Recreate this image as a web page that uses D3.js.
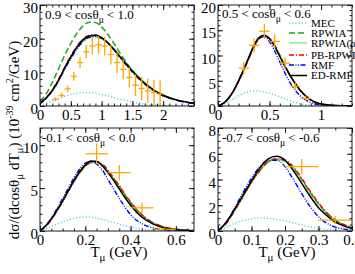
<!DOCTYPE html>
<html>
<head>
<meta charset="utf-8">
<script src="https://cdn.jsdelivr.net/npm/d3@7"></script>
<style>
  body { margin: 0; background: #fff; }
  svg { display: block; font-family: "Liberation Serif", "Times New Roman", serif; }
</style>
</head>
<body>
<svg id="chart" width="355" height="274"></svg>
<script>
// ---- values ----

// panel 1 : 0.9 < cos < 1.0
const tP1 = [0, 0.1, 0.2, 0.3, 0.4, 0.5, 0.6, 0.7, 0.8, 0.9, 1.0, 1.1, 1.2, 1.3, 1.4, 1.5, 1.6, 1.7, 1.8, 1.9, 2.0, 2.2, 2.5];
const mecP1    = [0.2, 0.8, 1.5, 2.2, 2.8, 3.4, 3.8, 4.0, 4.0, 3.8, 3.4, 3.0, 2.5, 2.0, 1.6, 1.2, 0.85, 0.6, 0.4, 0.25, 0.15, 0.05, 0.0];
const rpwiaP1  = [1.5, 3.6, 7.0, 11.0, 15.0, 18.6, 21.6, 23.8, 24.9, 24.8, 23.5, 21.3, 18.6, 15.7, 13.0, 10.5, 8.4, 6.6, 5.1, 3.9, 3.0, 1.8, 0.8];
const rpwiaRP1 = [0.9, 2.5, 4.7, 7.6, 11.1, 14.3, 17.1, 19.2, 20.3, 20.5, 20.0, 18.8, 17.0, 14.9, 12.8, 10.7, 8.8, 7.0, 5.5, 4.3, 3.3, 2.0, 0.8];
const pbP1     = [0.8, 2.5, 4.8, 7.9, 11.5, 14.9, 17.8, 19.9, 21.0, 21.1, 20.3, 18.7, 16.6, 14.3, 12.1, 10.0, 8.1, 6.5, 5.1, 3.9, 3.0, 1.8, 0.8];
const rmfP1    = [0.7, 2.2, 4.5, 7.4, 10.9, 14.1, 17.0, 19.2, 20.4, 20.7, 20.1, 18.7, 16.8, 14.6, 12.4, 10.3, 8.4, 6.7, 5.2, 4.0, 3.1, 1.8, 0.7];
const edrmfP1  = [0.8, 2.4, 4.6, 7.6, 11.3, 14.6, 17.5, 19.7, 20.8, 21.0, 20.3, 18.8, 16.8, 14.6, 12.4, 10.3, 8.4, 6.7, 5.3, 4.1, 3.2, 1.9, 0.8];
const expTP1   = [0.25, 0.35, 0.45, 0.55, 0.65, 0.75, 0.85, 0.95, 1.05, 1.15, 1.25, 1.35, 1.45, 1.55, 1.65, 1.75, 1.85, 1.95];
const expVP1   = [2.0, 3.1, 5.1, 8.8, 12.9, 16.1, 17.8, 18.2, 17.8, 15.3, 12.9, 10.9, 8.5, 6.2, 5.2, 4.5, 4.0, 3.6];
const expEP1   = [0.6, 0.8, 1.0, 1.3, 1.6, 2.0, 2.4, 2.6, 2.8, 3.0, 3.0, 3.0, 3.0, 3.2, 3.4, 3.6, 3.8, 4.0];

// panel 2 : 0.5 < cos < 0.6
const tP2 = [0, 0.05, 0.1, 0.15, 0.2, 0.25, 0.3, 0.35, 0.4, 0.45, 0.5, 0.55, 0.6, 0.65, 0.7, 0.75, 0.8, 0.85, 0.9, 0.95, 1.0, 1.1, 1.2, 1.3];
const mecP2    = [0, 0.35, 0.8, 1.4, 2.0, 2.5, 2.85, 3.0, 2.95, 2.8, 2.5, 2.2, 1.8, 1.4, 1.05, 0.7, 0.45, 0.28, 0.15, 0.08, 0.04, 0.01, 0, 0];
const rpwiaP2  = [0, 0.5, 1.5, 3.0, 5.0, 7.2, 9.6, 11.9, 13.5, 13.9, 13.3, 11.9, 10.0, 8.0, 6.1, 4.5, 3.1, 2.0, 1.2, 0.7, 0.4, 0.15, 0.05, 0.02];
const rpwiaRP2 = [0, 0.5, 1.5, 2.9, 4.9, 7.1, 9.5, 11.7, 13.3, 13.8, 13.3, 11.9, 10.0, 8.0, 6.1, 4.5, 3.1, 2.0, 1.3, 0.75, 0.45, 0.16, 0.05, 0.02];
const pbP2     = [0, 0.4, 1.4, 2.9, 4.8, 7.0, 9.4, 11.7, 13.3, 13.9, 13.4, 12.0, 10.0, 7.9, 6.0, 4.4, 3.0, 1.9, 1.1, 0.6, 0.35, 0.12, 0.04, 0.01];
const rmfP2    = [0, 0.5, 1.5, 3.0, 5.0, 7.2, 9.6, 11.9, 13.5, 13.7, 12.7, 10.9, 8.7, 6.5, 4.6, 3.1, 2.0, 1.2, 0.65, 0.35, 0.18, 0.05, 0.02, 0.01];
const edrmfP2  = [0, 0.5, 1.5, 3.0, 5.0, 7.3, 9.7, 12.0, 13.6, 14.0, 13.3, 11.8, 9.8, 7.8, 6.0, 4.4, 3.0, 2.0, 1.2, 0.7, 0.4, 0.15, 0.05, 0.02];
const expTP2   = [0.25, 0.35, 0.45, 0.55, 0.65, 0.75, 0.85];
const expVP2   = [7.5, 12.0, 14.8, 12.8, 8.5, 3.9, 1.5];
const expEP2   = [1.2, 1.4, 1.5, 1.4, 1.1, 0.7, 0.5];

// panel 3 : -0.1 < cos < 0.0
const tP3 = [0, 0.025, 0.05, 0.075, 0.1, 0.125, 0.15, 0.175, 0.2, 0.225, 0.25, 0.275, 0.3, 0.325, 0.35, 0.375, 0.4, 0.45, 0.5, 0.55, 0.6, 0.68];
const mecP3    = [0, 0.25, 0.5, 0.8, 1.05, 1.3, 1.48, 1.58, 1.62, 1.6, 1.5, 1.35, 1.18, 1.0, 0.8, 0.6, 0.45, 0.2, 0.07, 0.02, 0, 0];
const rpwiaP3  = [0, 0.6, 1.4, 2.4, 3.5, 4.7, 5.8, 6.8, 7.6, 8.0, 8.1, 7.7, 7.0, 6.1, 5.2, 4.2, 3.3, 1.85, 0.95, 0.45, 0.2, 0.05];
const rpwiaRP3 = [0, 0.6, 1.4, 2.4, 3.5, 4.6, 5.7, 6.7, 7.5, 7.9, 8.0, 7.7, 7.0, 6.1, 5.2, 4.2, 3.3, 1.85, 0.95, 0.45, 0.2, 0.05];
const pbP3     = [0, 0.5, 1.3, 2.3, 3.4, 4.6, 5.8, 6.8, 7.6, 8.0, 8.1, 7.8, 7.1, 6.2, 5.3, 4.3, 3.4, 1.9, 0.95, 0.45, 0.2, 0.05];
const rmfP3    = [0, 0.6, 1.5, 2.6, 3.8, 5.0, 6.2, 7.2, 7.9, 8.1, 7.8, 7.1, 6.0, 4.9, 3.8, 2.8, 1.9, 0.85, 0.35, 0.12, 0.04, 0.01];
const edrmfP3  = [0, 0.6, 1.4, 2.4, 3.5, 4.7, 5.9, 6.9, 7.7, 8.15, 8.1, 7.6, 6.8, 5.9, 4.9, 3.9, 3.0, 1.6, 0.8, 0.35, 0.15, 0.04];
const expTP3   = [0.25, 0.35, 0.45, 0.55];
const expVP3   = [9.0, 6.8, 2.7, 0.2];
const expEP3   = [1.2, 0.9, 0.6, 0.2];

// panel 4 : -0.7 < cos < -0.6
const tP4 = [0, 0.025, 0.05, 0.075, 0.1, 0.125, 0.15, 0.175, 0.2, 0.225, 0.25, 0.275, 0.3, 0.325, 0.35, 0.375, 0.4];
const mecP4    = [0, 0.3, 0.6, 0.8, 0.95, 1.0, 0.98, 0.9, 0.78, 0.62, 0.47, 0.32, 0.2, 0.11, 0.05, 0.02, 0.01];
const rpwiaP4  = [0, 0.6, 1.6, 2.7, 3.8, 4.7, 5.4, 5.6, 5.45, 4.9, 4.0, 3.0, 2.1, 1.4, 0.85, 0.5, 0.25];
const rpwiaRP4 = [0, 0.6, 1.6, 2.7, 3.8, 4.7, 5.35, 5.55, 5.4, 4.9, 4.0, 3.0, 2.1, 1.4, 0.85, 0.5, 0.25];
const pbP4     = [0, 0.6, 1.6, 2.7, 3.8, 4.7, 5.4, 5.6, 5.5, 5.0, 4.1, 3.1, 2.2, 1.4, 0.85, 0.5, 0.25];
const rmfP4    = [0, 0.7, 1.8, 3.0, 4.1, 5.0, 5.5, 5.5, 5.0, 4.0, 2.9, 1.9, 1.1, 0.6, 0.3, 0.15, 0.06];
const edrmfP4  = [0, 0.7, 1.7, 2.8, 3.9, 4.9, 5.6, 5.8, 5.5, 4.7, 3.7, 2.7, 1.8, 1.2, 0.7, 0.4, 0.2];
const expTP4   = [0.25, 0.35];
const expVP4   = [5.0, 0.85];
const expEP4   = [0.6, 0.3];

const binHalf = 0.05;   // half width of the T bins

// legend / model names, in legend order
const modelNames = ["MEC", "RPWIA", "RPWIA(ρ", "PB-RPWIA", "RMF", "ED-RMF"];

// ---- styles ----
const modelStyle = {
  "MEC":      { color: "#48d1d6", width: 1.3, dash: "1.2,2" },
  "RPWIA":    { color: "#21a321", width: 1.5, dash: "6,3" },
  "RPWIA(ρ":  { color: "#5ef05e", width: 1.2, dash: null },
  "PB-RPWIA": { color: "#ff0000", width: 1.4, dash: "5,2,1,2" },
  "RMF":      { color: "#0000ff", width: 1.4, dash: "5,1.5,1,1.5,1,1.5" },
  "ED-RMF":   { color: "#000000", width: 1.5, dash: null }
};
const expColor = "#ffa500";

// ---- panel table built from the arrays ----
const panels = [
  { box: [40, 194, 5, 106], xMax: 2.5, xLabMax: 2, yMax: 30, xMaj: 0.5, xMin: 0.1, yMaj: 10, yMin: 2,
    label: ["0.9 < cosθ", "μ", " < 1.0"], labelPos: [45, 19],
    t: tP1, series: [mecP1, rpwiaP1, rpwiaRP1, pbP1, rmfP1, edrmfP1],
    exp: [expTP1, expVP1, expEP1], xTitle: false },
  { box: [218, 352, 5, 106], xMax: 1.3, xLabMax: 1.3, yMax: 20, xMaj: 0.5, xMin: 0.1, yMaj: 5, yMin: 1,
    label: ["0.5 < cosθ", "μ", " < 0.6"], labelPos: [222, 18],
    t: tP2, series: [mecP2, rpwiaP2, rpwiaRP2, pbP2, rmfP2, edrmfP2],
    exp: [expTP2, expVP2, expEP2], xTitle: false },
  { box: [40, 194, 128, 231], xMax: 0.68, xLabMax: 0.68, yMax: 12, xMaj: 0.2, xMin: 0.05, yMaj: 5, yMin: 1,
    label: ["-0.1 < cosθ", "μ", " < 0.0"], labelPos: [42, 142],
    t: tP3, series: [mecP3, rpwiaP3, rpwiaRP3, pbP3, rmfP3, edrmfP3],
    exp: [expTP3, expVP3, expEP3], xTitle: true },
  { box: [218, 352, 128, 231], xMax: 0.4, xLabMax: 0.4, yMax: 8, xMaj: 0.1, xMin: 0.05, yMaj: 2, yMin: 0.5,
    label: ["-0.7 < cosθ", "μ", " < -0.6"], labelPos: [222, 142],
    t: tP4, series: [mecP4, rpwiaP4, rpwiaRP4, pbP4, rmfP4, edrmfP4],
    exp: [expTP4, expVP4, expEP4], xTitle: true }
];

// draw order: light lines first, black last
const drawOrder = [0, 2, 1, 3, 4, 5];

const svg = d3.select("#chart");
const frameColor = "#1a1a1a";

function steps(max, step) {
  const n = Math.floor(max / step + 1e-6);
  return d3.range(n + 1).map(i => +(i * step).toFixed(4));
}

panels.forEach(function(p, pi) {
  const [x0, x1, y0, y1] = p.box;
  const x = d3.scaleLinear().domain([0, p.xMax]).range([x0, x1]);
  const y = d3.scaleLinear().domain([0, p.yMax]).range([y1, y0]);

  const g = svg.append("g");

  const clipId = "clip" + pi;
  svg.append("clipPath").attr("id", clipId)
    .append("rect").attr("x", x0).attr("y", y0).attr("width", x1 - x0).attr("height", y1 - y0);

  // curves
  const line = d3.line()
    .x(d => x(d[0])).y(d => y(d[1]))
    .curve(d3.curveMonotoneX);

  const curves = g.append("g").attr("clip-path", "url(#" + clipId + ")");
  drawOrder.forEach(function(k) {
    const st = modelStyle[modelNames[k]];
    const pts = p.t.map((tv, i) => [tv, p.series[k][i]]);
    curves.append("path")
      .attr("d", line(pts))
      .attr("fill", "none")
      .attr("stroke", st.color)
      .attr("stroke-width", st.width)
      .attr("stroke-dasharray", st.dash);
  });

  // experimental points as crosses
  const [et, ev, ee] = p.exp;
  const crosses = g.append("g").attr("clip-path", "url(#" + clipId + ")")
    .attr("stroke", expColor).attr("stroke-width", 1.3);
  et.forEach(function(tv, i) {
    crosses.append("line")
      .attr("x1", x(tv - binHalf)).attr("x2", x(tv + binHalf))
      .attr("y1", y(ev[i])).attr("y2", y(ev[i]));
    crosses.append("line")
      .attr("x1", x(tv)).attr("x2", x(tv))
      .attr("y1", y(Math.max(0, ev[i] - ee[i]))).attr("y2", y(ev[i] + ee[i]));
  });

  // axes with inward ticks on all four sides
  const xMajor = steps(p.xMax, p.xMaj), xMinor = steps(p.xMax, p.xMin);
  const yMajor = steps(p.yMax, p.yMaj), yMinor = steps(p.yMax, p.yMin);
  const xFmt = v => (v <= p.xLabMax + 1e-6 ? String(v) : "");

  function addAxis(axis, tx, ty, labels, dy) {
    const a = g.append("g").attr("transform", "translate(" + tx + "," + ty + ")").call(axis);
    a.select(".domain").remove();
    a.selectAll(".tick line").attr("stroke", frameColor);
    a.selectAll("text").attr("font-size", 15).attr("fill", "#000")
      .attr("font-family", "Liberation Serif, serif");
    if (dy) a.selectAll("text").attr("dy", dy);
    if (!labels) a.selectAll("text").remove();
    return a;
  }

  addAxis(d3.axisBottom(x).tickValues(xMajor).tickSize(-5).tickPadding(3).tickFormat(xFmt), 0, y1, true);
  addAxis(d3.axisBottom(x).tickValues(xMinor).tickSize(-2.5), 0, y1, false);
  addAxis(d3.axisTop(x).tickValues(xMajor).tickSize(-5), 0, y0, false);
  addAxis(d3.axisTop(x).tickValues(xMinor).tickSize(-2.5), 0, y0, false);
  addAxis(d3.axisLeft(y).tickValues(yMajor).tickSize(-5).tickPadding(2).tickFormat(String), x0, 0, true, "0.5em");
  addAxis(d3.axisLeft(y).tickValues(yMinor).tickSize(-2.5), x0, 0, false);
  addAxis(d3.axisRight(y).tickValues(yMajor).tickSize(-5), x1, 0, false);
  addAxis(d3.axisRight(y).tickValues(yMinor).tickSize(-2.5), x1, 0, false);

  g.append("rect")
    .attr("x", x0).attr("y", y0).attr("width", x1 - x0).attr("height", y1 - y0)
    .attr("fill", "none").attr("stroke", frameColor).attr("stroke-width", 1);

  // panel label
  const lab = g.append("text").attr("x", p.labelPos[0]).attr("y", p.labelPos[1])
    .attr("font-size", 13).attr("fill", "#000");
  lab.append("tspan").text(p.label[0]);
  lab.append("tspan").attr("dy", 4).attr("font-size", 9.5).text(p.label[1]);
  lab.append("tspan").attr("dy", -4).text(p.label[2]);

  // x title
  if (p.xTitle) {
    const xt = g.append("text").attr("x", (x0 + x1) / 2 + 2).attr("y", 257)
      .attr("text-anchor", "middle").attr("font-size", 15).attr("fill", "#000");
    xt.append("tspan").text("T");
    xt.append("tspan").attr("dy", 4).attr("font-size", 11).text("μ");
    xt.append("tspan").attr("dy", -4).text(" (GeV)");
  }

  // legend goes in the second panel
  if (pi === 1) {
    const legY = [23, 33, 43, 55, 65, 75.5];
    const leg = g.append("g");
    modelNames.forEach(function(name, k) {
      const st = modelStyle[name];
      leg.append("line")
        .attr("x1", 289).attr("x2", 307).attr("y1", legY[k]).attr("y2", legY[k])
        .attr("stroke", st.color).attr("stroke-width", st.width)
        .attr("stroke-dasharray", st.dash);
      const t = leg.append("text").attr("x", 311).attr("y", legY[k] + 3.5)
        .attr("font-size", 11).attr("fill", "#000").text(name);
      if (name === "RPWIA(ρ") {
        t.append("tspan").attr("dy", 2.5).attr("font-size", 7).text("j");
        t.append("tspan").attr("dy", -2.5).text(")");
      }
    });
  }
});

// shared y title
const yt = svg.append("text")
  .attr("transform", "translate(19,140) rotate(-90)")
  .attr("text-anchor", "middle").attr("font-size", 15).attr("fill", "#000");
yt.append("tspan").text("dσ/(dcosθ");
yt.append("tspan").attr("dy", 4).attr("font-size", 11).text("μ");
yt.append("tspan").attr("dy", -4).text(" dT");
yt.append("tspan").attr("dy", 4).attr("font-size", 11).text("μ");
yt.append("tspan").attr("dy", -4).text(") (10");
yt.append("tspan").attr("dy", -6).attr("font-size", 10).text("-39");
yt.append("tspan").attr("dy", 6).text(" cm");
yt.append("tspan").attr("dy", -6).attr("font-size", 10).text("2");
yt.append("tspan").attr("dy", 6).text("/GeV)");
</script>
</body>
</html>
